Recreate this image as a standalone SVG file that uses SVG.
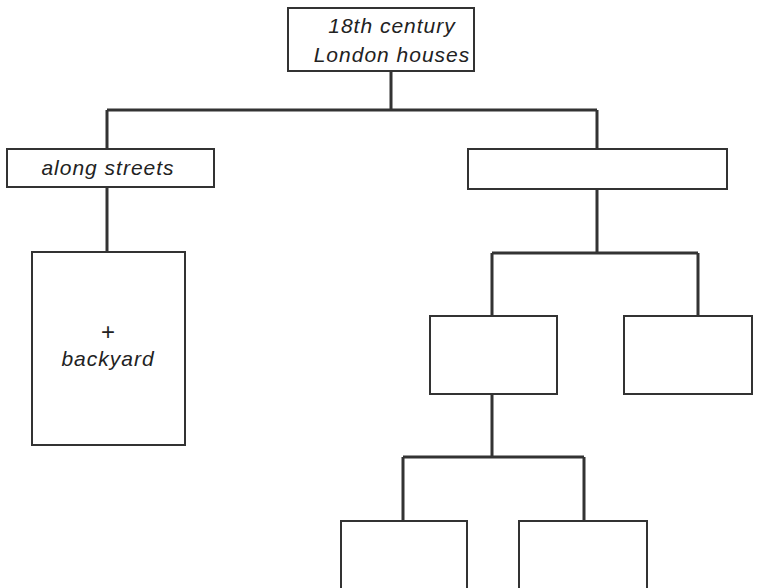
<svg xmlns="http://www.w3.org/2000/svg" width="781" height="588" viewBox="0 0 781 588">
<style>
.box{fill:#fff;stroke:#333;stroke-width:2}
.con{fill:none;stroke:#333;stroke-width:3}
.t{font-family:"Liberation Sans",Arial,sans-serif;font-style:italic;font-size:21px;letter-spacing:1px;fill:#222;text-anchor:middle}
.p{font-family:"Liberation Sans",Arial,sans-serif;font-size:24px;fill:#222;text-anchor:middle}
</style>
<rect width="781" height="588" fill="#fff"/>
<g id="connectors">
<path class="con" d="M391,71 V110 M107,110 H597 M107,110 V149 M597,110 V149"/>
<path class="con" d="M107,187 V252"/>
<path class="con" d="M597,189 V253 M492,253 H698 M492,253 V316 M698,253 V316"/>
<path class="con" d="M492,394 V457 M403,457 H584 M403,457 V521 M584,457 V521"/>
</g>
<g id="root"><rect class="box" x="288" y="8" width="186" height="63"/>
<text class="t" x="392" y="33">18th century</text><text class="t" x="392" y="62">London houses</text></g>
<g id="along-streets"><rect class="box" x="7" y="149" width="207" height="38"/>
<text class="t" x="108" y="175">along streets</text></g>
<g id="backyard"><rect class="box" x="32" y="252" width="153" height="193"/>
<text class="p" x="108" y="340">+</text><text class="t" x="108" y="366">backyard</text></g>
<g id="right"><rect class="box" x="468" y="149" width="259" height="40"/></g>
<g id="right-a"><rect class="box" x="430" y="316" width="127" height="78"/></g>
<g id="right-b"><rect class="box" x="624" y="316" width="128" height="78"/></g>
<g id="right-a-1"><rect class="box" x="341" y="521" width="126" height="70"/></g>
<g id="right-a-2"><rect class="box" x="519" y="521" width="128" height="70"/></g>
</svg>
